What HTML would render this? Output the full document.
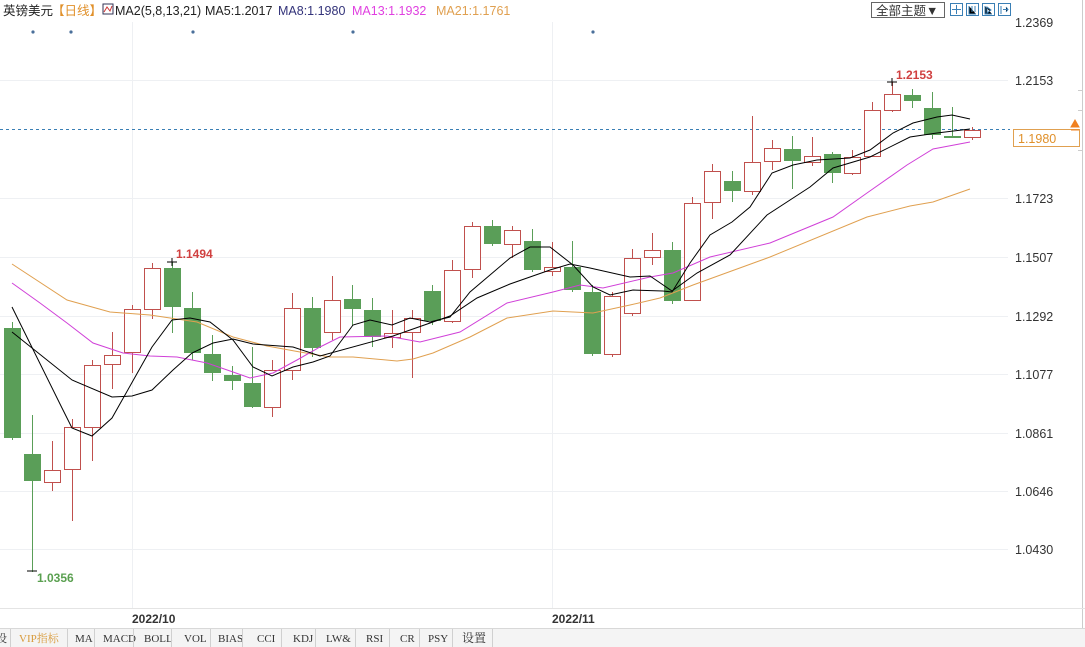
<!DOCTYPE html>
<html><head><meta charset="utf-8">
<style>
body{margin:0;width:1085px;height:647px;overflow:hidden;background:#fff;font-family:"Liberation Sans","Noto Sans CJK SC",sans-serif;}
svg{position:absolute;left:0;top:0}
</style></head><body>
<svg width="1085" height="647" xmlns="http://www.w3.org/2000/svg" font-family="Liberation Sans, Noto Sans CJK SC, sans-serif">
<rect width="1085" height="647" fill="#fff"/>
<!-- grid -->
<g stroke="#eef0f3" stroke-width="1">
<line x1="0" y1="80.5" x2="1008" y2="80.5"/><line x1="0" y1="198.5" x2="1008" y2="198.5"/>
<line x1="0" y1="257.5" x2="1008" y2="257.5"/><line x1="0" y1="316.5" x2="1008" y2="316.5"/>
<line x1="0" y1="374.5" x2="1008" y2="374.5"/><line x1="0" y1="433.5" x2="1008" y2="433.5"/>
<line x1="0" y1="491.5" x2="1008" y2="491.5"/><line x1="0" y1="549.5" x2="1008" y2="549.5"/>
<line x1="132.5" y1="22" x2="132.5" y2="608"/><line x1="552.5" y1="22" x2="552.5" y2="608"/>
</g>
<line x1="1082.5" y1="0" x2="1082.5" y2="628" stroke="#ccc"/>
<line x1="0" y1="608.5" x2="1085" y2="608.5" stroke="#e4e4e4"/>
<!-- header -->
<text x="3" y="15" font-size="12.5" fill="#222">英镑美元</text>
<text x="52" y="15" font-size="12.5" fill="#e0902a">【日线】</text>
<rect x="103" y="4" width="10" height="10" fill="#fff" stroke="#335"/>
<path d="M104 12 L107 7 L110 11 L112 6" stroke="#c33" fill="none"/>
<text x="115" y="15" font-size="12.5" fill="#222">MA2(5,8,13,21)</text>
<text x="205" y="15" font-size="12.5" fill="#222">MA5:1.2017</text>
<text x="278" y="15" font-size="12.5" fill="#33337a">MA8:1.1980</text>
<text x="352" y="15" font-size="12.5" fill="#e040e0">MA13:1.1932</text>
<text x="436" y="15" font-size="12.5" fill="#e0a050">MA21:1.1761</text>
<g fill="#4a6f9a"><circle cx="33" cy="32" r="1.6"/><circle cx="71" cy="32" r="1.6"/><circle cx="193" cy="32" r="1.6"/><circle cx="353" cy="32" r="1.6"/><circle cx="593" cy="32" r="1.6"/></g>
<rect x="871.5" y="2.5" width="73" height="15" fill="#fff" stroke="#666"/>
<text x="876" y="15" font-size="12.5" fill="#333">全部主题▼</text>
<g stroke="#3a7fb5" fill="#fff"><rect x="950.5" y="3.5" width="12" height="12"/><rect x="966.5" y="3.5" width="12" height="12"/><rect x="982.5" y="3.5" width="12" height="12"/><rect x="998.5" y="3.5" width="12" height="12"/></g>
<g stroke="#3a7fb5" stroke-width="1"><path d="M956.5 5v9M952 9.5h9"/><path d="M969 6v8h7M972 6v6M975 6v6"/><path d="M985 6v8h7M987 7l4 3-4 3z"/><path d="M1001 6v8M1003 9.5h5M1006 7l2 2.5-2 2.5"/></g>
<!-- axis labels -->
<g font-size="12.5" fill="#333">
<text x="1015" y="27">1.2369</text><text x="1015" y="85">1.2153</text><text x="1015" y="203">1.1723</text>
<text x="1015" y="262">1.1507</text><text x="1015" y="321">1.1292</text><text x="1015" y="379">1.1077</text>
<text x="1015" y="438">1.0861</text><text x="1015" y="496">1.0646</text><text x="1015" y="554">1.0430</text>
</g>
<g stroke="#ccc"><line x1="1078" y1="90.5" x2="1082" y2="90.5"/><line x1="1078" y1="110.5" x2="1082" y2="110.5"/><line x1="1078" y1="150.5" x2="1082" y2="150.5"/></g>
<line x1="0" y1="129.5" x2="1010" y2="129.5" stroke="#3a7fb5" stroke-dasharray="3,3"/>
<rect x="1013.5" y="129.5" width="66" height="17" fill="#fff" stroke="#e0a050"/>
<text x="1018" y="143" font-size="12.5" fill="#e0902a">1.1980</text>
<path d="M1071 127 L1075 120 L1079 127 Z M1071 130h8" fill="#f08020" stroke="#f08020"/>
<g id="candles"></g>
<!-- MAs -->
<polyline fill="none" stroke="#e0a050" stroke-width="1" points="12,264 67,300 110,312 150,315 197,322 233,337 267,346 300,352 330,357 353,357 397,361 413,359 433,353 470,337 507,318 553,311 593,313 630,305 660,298 693,285 770,257 867,217 910,206 933,202 970,189"/>
<polyline fill="none" stroke="#d040d8" stroke-width="1" points="12,283 40,303 67,323 93,343 123,353 150,356 177,357 207,363 233,372 250,378 273,373 297,360 320,347 340,337 387,336 420,342 460,332 507,303 553,292 580,285 603,288 650,277 673,273 710,257 770,243 833,217 867,193 907,165 933,149 970,142"/>
<polyline fill="none" stroke="#000" stroke-width="1" points="12,332 72,380 112,397 132,396 152,390 173,370 192,353 213,343 233,339 253,344 293,347 320,356 393,336 450,316 477,298 510,284 550,270 570,264 590,268 630,277 650,276 672,291 697,273 730,255 767,215 810,187 833,168 870,157 910,137 937,133 970,129"/>
<polyline fill="none" stroke="#000" stroke-width="1" points="12,307 62,408 72,428 92,436 112,418 152,347 172,320 190,318 210,322 233,340 253,367 272,376 293,367 313,362 330,356 353,325 370,320 392,325 410,318 430,322 450,317 470,292 510,258 530,247 550,247 573,265 593,287 610,295 633,290 663,291 672,292 690,263 710,235 732,222 750,207 772,173 793,165 817,160 850,158 870,150 893,133 913,123 937,117 952,115 970,119"/>
<!-- markers -->
<path d="M167 262h10M172 258v8" stroke="#000"/>
<text x="176" y="258" font-size="12" font-weight="bold" fill="#d04040">1.1494</text>
<path d="M887 82h10M892 78v8" stroke="#000"/>
<text x="896" y="79" font-size="12" font-weight="bold" fill="#d04040">1.2153</text>
<path d="M27 571h10" stroke="#000"/>
<text x="37" y="582" font-size="12" font-weight="bold" fill="#5aa050">1.0356</text>
<!-- date axis -->
<text x="132" y="623" font-size="12" font-weight="bold" fill="#333">2022/10</text>
<text x="552" y="623" font-size="12" font-weight="bold" fill="#333">2022/11</text>
<!-- tabs -->
<rect x="0" y="628" width="1085" height="19" fill="#f4f4f4"/>
<line x1="0" y1="628.5" x2="1085" y2="628.5" stroke="#d8d8d8"/>
<g font-family="Liberation Serif, Noto Serif CJK SC, serif" font-size="11" fill="#333">
<text x="-4" y="642">设</text>
<text x="19" y="642" fill="#d89a3a">VIP指标</text>
<text x="75" y="642">MA</text><text x="103" y="642">MACD</text><text x="144" y="642">BOLL</text>
<text x="184" y="642">VOL</text><text x="218" y="642">BIAS</text><text x="257" y="642">CCI</text>
<text x="293" y="642">KDJ</text><text x="326" y="642">LW&amp;</text><text x="366" y="642">RSI</text>
<text x="400" y="642">CR</text><text x="428" y="642">PSY</text><text x="462" y="642" font-size="12">设置</text>
</g>
<g stroke="#d0d0d0"><path d="M10.5 629v18M67.5 629v18M94.5 629v18M133.5 629v18M171.5 629v18M210.5 629v18M242.5 629v18M281.5 629v18M315.5 629v18M355.5 629v18M389.5 629v18M419.5 629v18M452.5 629v18M492.5 629v18"/></g>
</svg>
<script>
var C=[
[12,0,328,438,322,440],[32,0,454,481,415,572],[52,1,470,482,441,491],[72,1,427,469,419,521],[92,1,365,427,360,461],
[112,1,355,364,332,389],[132,1,309,352,305,373],[152,1,268,309,263,319],[172,0,268,307,262,333],[192,0,308,353,292,360],
[212,0,354,373,335,381],[232,0,375,381,366,390],[252,0,383,407,347,408],[272,1,370,407,360,417],[292,1,308,370,293,380],
[312,0,308,348,297,357],[332,1,300,332,276,340],[352,0,299,309,285,326],[372,0,310,337,298,347],[392,1,333,337,310,348],
[412,1,318,332,310,378],[432,0,291,321,285,325],[452,1,270,321,260,323],[472,1,226,269,222,278],[492,0,226,244,220,246],
[512,1,230,244,226,258],[532,0,241,270,229,272],[552,1,267,271,242,276],[572,0,267,290,241,292],[592,0,292,354,285,356],
[612,1,296,354,292,357],[632,1,258,313,249,316],[652,1,250,257,233,265],[672,0,250,301,242,304],[692,1,203,300,197,301],
[712,1,171,202,164,219],[732,0,181,191,171,202],[752,1,162,191,116,195],[772,1,148,161,140,170],[792,0,149,161,136,189],
[812,1,156,162,137,166],[832,0,154,173,152,183],[852,1,157,173,150,175],[872,1,110,156,102,157],[892,1,94,110,82,112],
[912,0,95,101,89,108],[932,0,108,135,92,139],[952,0,136,137.5,107,138],[972,1,130,137,127,140]];
var g=document.getElementById('candles'),s='';
C.forEach(function(c){var x=c[0],up=c[1],col=up?'#c0504d':'#5a9e58';
if(up){s+='<line x1="'+(x+.5)+'" y1="'+c[4]+'" x2="'+(x+.5)+'" y2="'+c[2]+'" stroke="'+col+'"/><line x1="'+(x+.5)+'" y1="'+c[3]+'" x2="'+(x+.5)+'" y2="'+c[5]+'" stroke="'+col+'"/><rect x="'+(x-7.5)+'" y="'+(c[2]+.5)+'" width="16" height="'+Math.max(1,c[3]-c[2])+'" fill="#fff" stroke="'+col+'"/>';}
else{s+='<line x1="'+(x+.5)+'" y1="'+c[4]+'" x2="'+(x+.5)+'" y2="'+c[5]+'" stroke="'+col+'"/><rect x="'+(x-8)+'" y="'+c[2]+'" width="17" height="'+Math.max(2,c[3]-c[2])+'" fill="'+col+'"/>';}
});
g.innerHTML=s;
</script>
</body></html>
